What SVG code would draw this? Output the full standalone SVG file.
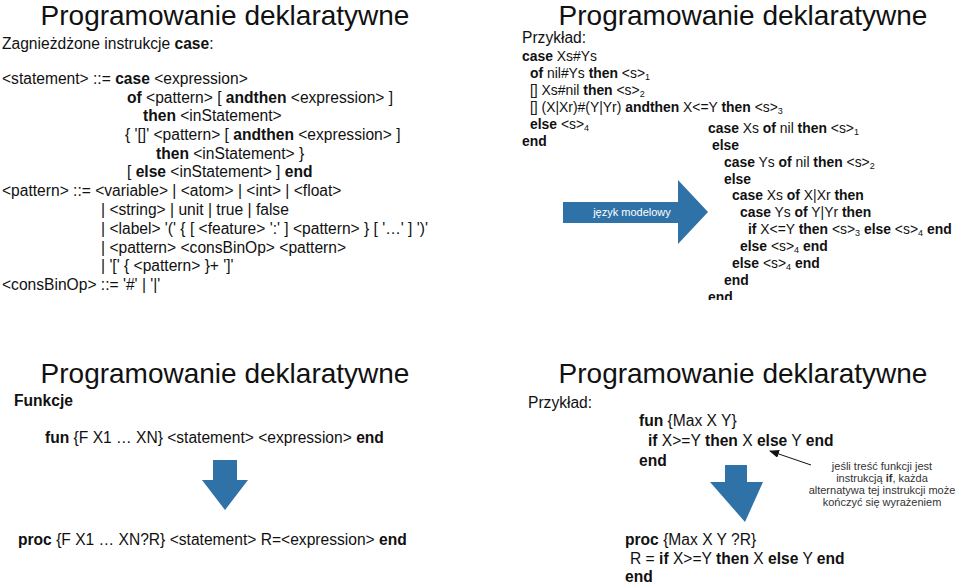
<svg xmlns="http://www.w3.org/2000/svg" width="960" height="585" viewBox="0 0 960 585">
<style>
text{font-family:"Liberation Sans",Arial,sans-serif;fill:#111}
.t{font-size:28px;text-anchor:middle;font-weight:300}
.g{font-size:15.6px}
.c{font-size:13.9px}
.b{font-weight:bold}
.s{font-size:9px}
.n{font-size:11px;text-anchor:middle;fill:#333}
.ar{fill:#2f72a8}
</style>
<defs>
<marker id="ah" markerWidth="10" markerHeight="8" refX="9" refY="4" orient="auto" markerUnits="userSpaceOnUse"><path d="M0,0L10,4L0,8z" fill="#111"/></marker>
<clipPath id="cp"><rect x="480" y="0" width="480" height="300"/></clipPath>
</defs>
<rect width="960" height="585" fill="#fff"/>
<g id="slide1">
<text class="t" x="225" y="25">Programowanie deklaratywne</text>
<text class="g" x="2" y="49">Zagnieżdżone instrukcje <tspan class="b">case</tspan>:</text>
<text class="g" x="2" y="84">&lt;statement&gt; ::= <tspan class="b">case</tspan> &lt;expression&gt;</text>
<text class="g" x="127" y="103"><tspan class="b">of</tspan> &lt;pattern&gt; [ <tspan class="b">andthen</tspan> &lt;expression&gt; ]</text>
<text class="g" x="143" y="121"><tspan class="b">then</tspan> &lt;inStatement&gt;</text>
<text class="g" x="125" y="140">{ '[]' &lt;pattern&gt; [ <tspan class="b">andthen</tspan> &lt;expression&gt; ]</text>
<text class="g" x="156" y="159"><tspan class="b">then</tspan> &lt;inStatement&gt; }</text>
<text class="g" x="127" y="177">[ <tspan class="b">else</tspan> &lt;inStatement&gt; ] <tspan class="b">end</tspan></text>
<text class="g" x="2" y="196">&lt;pattern&gt; ::= &lt;variable&gt; | &lt;atom&gt; | &lt;int&gt; | &lt;float&gt;</text>
<text class="g" x="101" y="215">| &lt;string&gt; | unit | true | false</text>
<text class="g" x="101" y="234">| &lt;label&gt; '(' { [ &lt;feature&gt; ':' ] &lt;pattern&gt; } [ '…' ]  ')'</text>
<text class="g" x="101" y="253">| &lt;pattern&gt; &lt;consBinOp&gt; &lt;pattern&gt;</text>
<text class="g" x="101" y="271">| '[' { &lt;pattern&gt; }+ ']'</text>
<text class="g" x="2" y="290">&lt;consBinOp&gt; ::= '#' | '|'</text>
</g>
<g id="slide2">
<text class="t" x="743" y="25">Programowanie deklaratywne</text>
<text class="g" x="522" y="43">Przykład:</text>
<text class="c" x="522" y="61"><tspan class="b">case</tspan> Xs#Ys</text>
<text class="c" x="530" y="78"><tspan class="b">of</tspan> nil#Ys <tspan class="b">then</tspan> &lt;s&gt;<tspan class="s" dy="2">1</tspan></text>
<text class="c" x="530" y="95">[] Xs#nil <tspan class="b">then</tspan> &lt;s&gt;<tspan class="s" dy="2">2</tspan></text>
<text class="c" x="530" y="112">[] (X|Xr)#(Y|Yr) <tspan class="b">andthen</tspan> X&lt;=Y <tspan class="b">then</tspan> &lt;s&gt;<tspan class="s" dy="2">3</tspan></text>
<text class="c" x="530" y="129"><tspan class="b">else</tspan> &lt;s&gt;<tspan class="s" dy="2">4</tspan></text>
<text class="c b" x="522" y="146">end</text>
<g clip-path="url(#cp)">
<text class="c" x="708" y="133"><tspan class="b">case</tspan> Xs <tspan class="b">of</tspan> nil <tspan class="b">then</tspan> &lt;s&gt;<tspan class="s" dy="2">1</tspan></text>
<text class="c b" x="712" y="150">else</text>
<text class="c" x="724" y="167"><tspan class="b">case</tspan> Ys <tspan class="b">of</tspan> nil <tspan class="b">then</tspan> &lt;s&gt;<tspan class="s" dy="2">2</tspan></text>
<text class="c b" x="724" y="184">else</text>
<text class="c" x="732" y="200"><tspan class="b">case</tspan> Xs <tspan class="b">of</tspan> X|Xr <tspan class="b">then</tspan></text>
<text class="c" x="740" y="217"><tspan class="b">case</tspan> Ys <tspan class="b">of</tspan> Y|Yr <tspan class="b">then</tspan></text>
<text class="c" x="748" y="234"><tspan class="b">if</tspan> X&lt;=Y <tspan class="b">then</tspan> &lt;s&gt;<tspan class="s" dy="2">3</tspan><tspan dy="-2"> </tspan><tspan class="b">else</tspan> &lt;s&gt;<tspan class="s" dy="2">4</tspan><tspan dy="-2"> </tspan><tspan class="b">end</tspan></text>
<text class="c" x="740" y="251"><tspan class="b">else</tspan> &lt;s&gt;<tspan class="s" dy="2">4</tspan><tspan dy="-2"> </tspan><tspan class="b">end</tspan></text>
<text class="c" x="732" y="268"><tspan class="b">else</tspan> &lt;s&gt;<tspan class="s" dy="2">4</tspan><tspan dy="-2"> </tspan><tspan class="b">end</tspan></text>
<text class="c b" x="724" y="285">end</text>
<text class="c b" x="708" y="302">end</text>
</g>
<path class="ar" d="M563,202H678V180L708,212L678,244V223H563Z"/>
<text x="632" y="216" style="font-size:11px;fill:#fff;text-anchor:middle">język modelowy</text>
</g>
<g id="slide3">
<text class="t" x="225" y="383">Programowanie deklaratywne</text>
<text class="g b" x="14" y="406">Funkcje</text>
<text class="g" x="45" y="443"><tspan class="b">fun</tspan> {F X1 … XN} &lt;statement&gt; &lt;expression&gt; <tspan class="b">end</tspan></text>
<path class="ar" d="M213,460H237V480H248L225,510L202,480H213Z"/>
<text class="g" x="18" y="545"><tspan class="b">proc</tspan> {F X1 … XN?R} &lt;statement&gt; R=&lt;expression&gt; <tspan class="b">end</tspan></text>
</g>
<g id="slide4">
<text class="t" x="743" y="383">Programowanie deklaratywne</text>
<text class="g" x="528" y="408">Przykład:</text>
<text class="g" x="639" y="426"><tspan class="b">fun</tspan> {Max X Y}</text>
<text class="g" x="648" y="446"><tspan class="b">if</tspan> X&gt;=Y <tspan class="b">then</tspan> X <tspan class="b">else</tspan> Y <tspan class="b">end</tspan></text>
<text class="g b" x="639" y="466">end</text>
<text class="n" x="882" y="470">jeśli treść funkcji jest</text>
<text class="n" x="882" y="482">instrukcją <tspan class="b">if</tspan>, każda</text>
<text class="n" x="882" y="494">alternatywa tej instrukcji może</text>
<text class="n" x="882" y="506">kończyć się wyrażeniem</text>
<path class="ar" d="M725,465H747V482H763L745,522L710,482H725Z"/>
<text class="g" x="625" y="545"><tspan class="b">proc</tspan> {Max X Y ?R}</text>
<text class="g" x="630" y="564">R = <tspan class="b">if</tspan> X&gt;=Y <tspan class="b">then</tspan> X <tspan class="b">else</tspan> Y <tspan class="b">end</tspan></text>
<text class="g b" x="625" y="582">end</text>
</g>
<g id="connectors">
<line x1="811" y1="465" x2="770" y2="451" stroke="#111" stroke-width="1" marker-end="url(#ah)"/>
</g>
</svg>
